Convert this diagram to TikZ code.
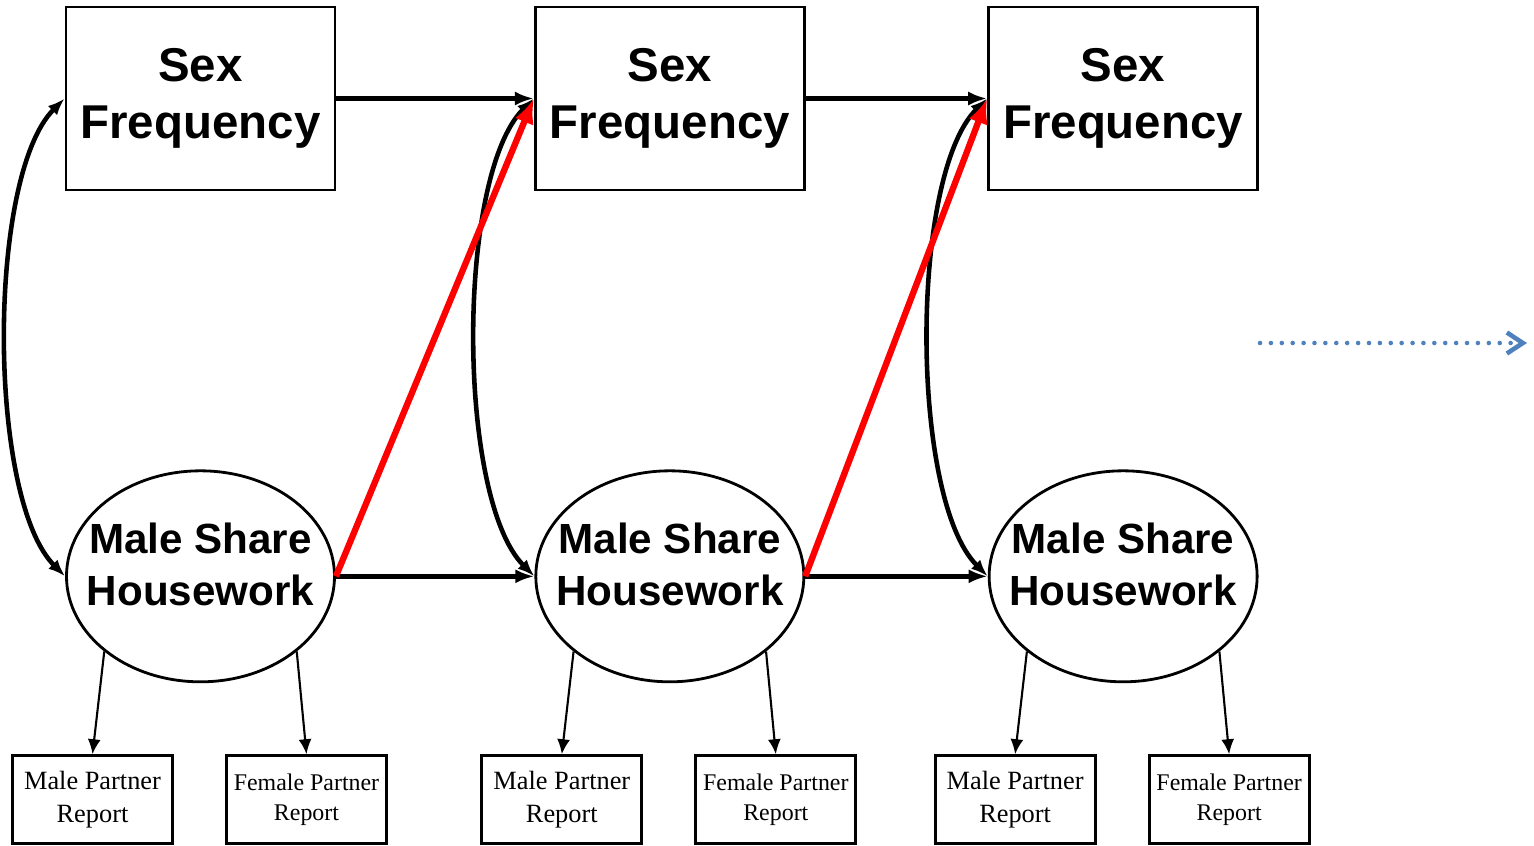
\documentclass[tikz,border=0pt]{standalone}
\usepackage{fontspec}
\setmainfont{Liberation Serif}
\setsansfont{Liberation Sans}
\usepackage{xcolor}
\usetikzlibrary{arrows.meta,positioning,shapes.geometric}
\definecolor{trendblue}{RGB}{79,129,189}

\begin{document}
\begin{tikzpicture}[
  node distance=2.0cm and 2.0cm,
  freq/.style={
    rectangle, draw, line width=0.8pt,
    minimum width=2.69cm, minimum height=1.83cm, inner sep=0pt,
    align=center, font=\sffamily\bfseries\fontsize{13.5}{16.4}\selectfont
  },
  share/.style={
    ellipse, draw, line width=0.8pt,
    minimum width=2.68cm, minimum height=2.11cm,
    inner xsep=-0.5cm, inner ysep=-0.3cm,
    align=center, text depth=0.24cm,
    font=\sffamily\bfseries\fontsize{12}{14.8}\selectfont
  },
  report/.style={
    rectangle, draw, line width=0.8pt,
    minimum width=1.60cm, minimum height=0.88cm, inner sep=0pt,
    align=center, font=\fontsize{7.5}{9.4}\selectfont
  },
  freport/.style={report, font=\fontsize{6.8}{8.5}\selectfont},
  arrow/.style={-{Latex[length=0.19cm,width=0.14cm]}, line width=1.3pt},
  cross/.style={-{Latex[length=0.25cm,width=0.2cm]}, red, line width=1.8pt},
  covar/.style={{Latex[length=0.17cm,width=0.13cm]}-{Latex[length=0.17cm,width=0.13cm]},
    line width=1.3pt, out=225, in=135, looseness=0.59},
  load/.style={-{Latex[length=0.15cm,width=0.13cm]}, line width=0.6pt},
  trend/.style={trendblue, line width=1.3pt, line cap=round, dash pattern=on 0pt off 3.1pt,
    -{Straight Barb[length=0.16cm,width=0.21cm,line width=1.3pt]}}
]
\useasboundingbox (0,0) rectangle (15.34,8.45);

% Row 1: observed sex frequency
\node[freq] (sf1) at (2.005,7.465) {Sex\\Frequency};
\node[freq, right=1.975cm of sf1] (sf2) {Sex\\Frequency};
\node[freq, right=1.815cm of sf2] (sf3) {Sex\\Frequency};

% Row 2: latent housework share
\node[share, below=2.78cm of sf1] (ms1) {Male Share\\Housework};
\node[share, below=2.78cm of sf2] (ms2) {Male Share\\Housework};
\node[share, below=2.78cm of sf3] (ms3) {Male Share\\Housework};

% Row 3: indicators
\node[report, below=0.71cm of ms1, xshift=-1.08cm] (mp1) {Male Partner\\Report};
\node[freport, below=0.71cm of ms1, xshift=1.06cm] (fp1) {Female Partner\\Report};
\node[report, below=0.71cm of ms2, xshift=-1.08cm] (mp2) {Male Partner\\Report};
\node[freport, below=0.71cm of ms2, xshift=1.06cm] (fp2) {Female Partner\\Report};
\node[report, below=0.71cm of ms3, xshift=-1.08cm] (mp3) {Male Partner\\Report};
\node[freport, below=0.71cm of ms3, xshift=1.06cm] (fp3) {Female Partner\\Report};

% Stability paths
\draw[arrow] (sf1) -- (sf2);
\draw[arrow] (sf2) -- (sf3);
\draw[arrow] (ms1) -- (ms2);
\draw[arrow] (ms2) -- (ms3);

% Within-wave covariances
\draw[covar] (sf1.west) to (ms1.west);
\draw[covar] (sf2.west) to (ms2.west);
\draw[covar] (sf3.west) to (ms3.west);

% Cross-lagged paths
\draw[cross] (ms1.east) -- (sf2.west);
\draw[cross] (ms2.east) -- (sf3.west);

% Loadings
\draw[load] (ms1.218) -- (mp1.north);
\draw[load] (ms1.322) -- (fp1.north);
\draw[load] (ms2.218) -- (mp2.north);
\draw[load] (ms2.322) -- (fp2.north);
\draw[load] (ms3.218) -- (mp3.north);
\draw[load] (ms3.322) -- (fp3.north);

% Continuation
\coordinate (trendstart) at (12.60,5.02);
\coordinate (trendend) at (15.27,5.02);
\draw[trend] (trendstart) -- (trendend);

\end{tikzpicture}
\end{document}
